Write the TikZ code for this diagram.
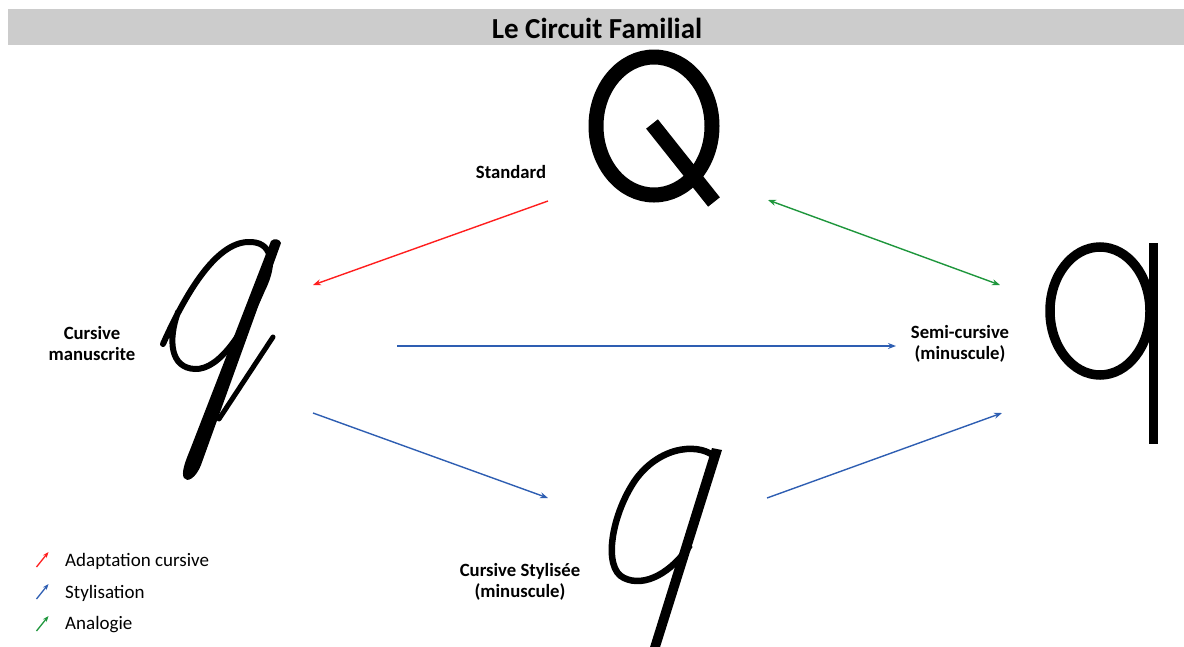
\documentclass[tikz,border=0pt]{standalone}
\usepackage{fontspec}
\setmainfont{Carlito}
\usetikzlibrary{arrows.meta}
\definecolor{redA}{RGB}{255,30,30}
\definecolor{blueA}{RGB}{46,94,178}
\definecolor{greenA}{RGB}{30,150,60}
\definecolor{barA}{RGB}{204,204,204}
\begin{document}
\begin{tikzpicture}[x=1pt,y=-1pt,
  conn/.style={line width=1.4pt,-{Stealth[length=8pt,width=6pt]}},
  conntwo/.style={line width=1.4pt,{Stealth[length=8pt,width=6pt]}-{Stealth[length=8pt,width=6pt]}},
  legarrow/.style={line width=1.3pt,-{Stealth[length=6pt,width=4.5pt]}},
  lab/.style={font=\fontsize{18.7}{21}\selectfont\bfseries,align=center},
  leg/.style={font=\fontsize{19}{22}\selectfont,anchor=west,inner sep=0pt},
  thinstroke/.style={draw=black,line cap=round},
]
\useasboundingbox (0,0) rectangle (1184,646);
\clip (0,0) rectangle (1184,646);
% title bar
\fill[barA] (8,9) rectangle (1184,45);
\node[font=\fontsize{29}{32}\selectfont\bfseries] (title) at (597,28) {Le Circuit Familial};

% labels
\node[lab] (std) at (511,172) {Standard};
\node[lab] (cm) at (92,344) {Cursive\\manuscrite};
\node[lab] (sc) at (960,344) {Semi-cursive\\(minuscule)};
\node[lab] (cs) at (520,582) {Cursive Stylisée\\(minuscule)};

% glyph Q (standard)
\coordinate (Qc) at (654,126);
\draw[line width=15pt] (Qc) ellipse [x radius=58pt, y radius=69pt];
\draw[line width=15pt] (652,124) -- (714,202);

% glyph q (semi-cursive)
\coordinate (qc) at (1100,311);
\draw[line width=9.5pt] (qc) ellipse [x radius=50pt, y radius=64pt];
\fill (1149,243) rectangle (1158,444);

% glyph cursive manuscrite
\draw[thinstroke,line width=6pt] (163,344) .. controls (185,295) and (215,243) .. (248,242)
  .. controls (272,241) and (276,262) .. (262,290)
  .. controls (245,330) and (220,370) .. (195,369)
  .. controls (170,368) and (168,340) .. (178,312);
\fill (271,241) .. controls (274,238) and (280,239) .. (281,243) -- (201,465)
  .. controls (196,478) and (187,483) .. (184,478)
  .. controls (181,473) and (185,462) .. (190,450) -- cycle;
\draw[thinstroke,line width=5pt] (273,337) -- (219,419);

% glyph cursive stylisee
\fill (712,448) -- (722,450) -- (656,660) -- (646,660) -- cycle;
\draw[line width=6.5pt] (716,458) .. controls (702,443) and (662,444) .. (636,479)
  .. controls (612,513) and (602,568) .. (624,578)
  .. controls (645,588) and (672,572) .. (690,545);

% connector end points
\coordinate (a1) at (548,201);
\coordinate (a2) at (313,285);
\coordinate (g1) at (768,200);
\coordinate (g2) at (1000,285);
\coordinate (b1) at (397,346);
\coordinate (b2) at (896,346);
\coordinate (b3) at (313,413);
\coordinate (b4) at (548,498);
\coordinate (b5) at (767,498);
\coordinate (b6) at (1002,413);

\draw[conn,redA] (a1) -- (a2);
\draw[conntwo,greenA] (g1) -- (g2);
\draw[conn,blueA] (b1) -- (b2);
\draw[conn,blueA] (b3) -- (b4);
\draw[conn,blueA] (b5) -- (b6);

% legend
\coordinate (lr1) at (36.5,567); \coordinate (lr2) at (48.5,552);
\coordinate (lb1) at (36.5,599); \coordinate (lb2) at (48.5,584);
\coordinate (lg1) at (36.5,631); \coordinate (lg2) at (48.5,616);
\draw[legarrow,redA] (lr1) -- (lr2);
\draw[legarrow,blueA] (lb1) -- (lb2);
\draw[legarrow,greenA] (lg1) -- (lg2);
\node[leg] (l1) at (65,561) {Adaptation cursive};
\node[leg] (l2) at (65,593) {Stylisation};
\node[leg] (l3) at (65,625) {Analogie};
\end{tikzpicture}
\end{document}
